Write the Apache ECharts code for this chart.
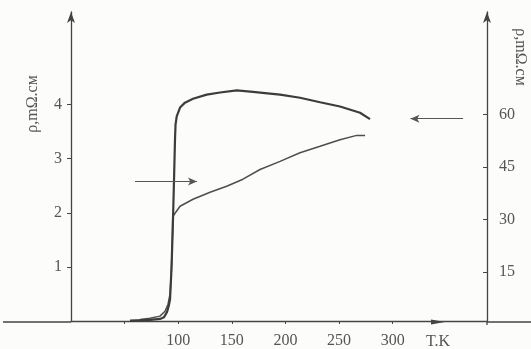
<!DOCTYPE html>
<html>
<head>
<meta charset="utf-8">
<script src="https://cdn.jsdelivr.net/npm/echarts@6/dist/echarts.min.js"></script>
<style>
  html, body { margin: 0; padding: 0; background: #fcfcfa; }
  #chart { width: 531px; height: 349px; }
</style>
</head>
<body>
<div id="chart"></div>
<script>
// temperature, K
const lowerT = [64.4, 73.7, 83, 87.7, 90.5, 92.4, 93.7, 94.5, 94.9, 101.7, 113.8, 129.7, 145.2, 160.4, 176.3, 195, 213.6, 232.3, 250.9, 266.5, 274.3];
// resistivity, mOhm*cm (left scale)
const lowerRho = [0.03, 0.05, 0.09, 0.18, 0.31, 0.5, 0.96, 1.51, 1.93, 2.12, 2.25, 2.38, 2.49, 2.62, 2.8, 2.95, 3.11, 3.23, 3.35, 3.43, 3.43];

const upperT = [55, 73.7, 83, 86.8, 89.6, 91.4, 92.4, 93.7, 94.9, 96.1, 97, 97.5, 98.6, 101.7, 106.3, 113.8, 126.6, 139, 154.6, 169.8, 185.6, 195, 213.6, 232.3, 250.9, 269.6, 278.9];
// resistivity, mOhm*cm (right scale)
const upperRho = [1.1, 1.3, 1.6, 2.1, 3.6, 5.6, 7.3, 15.8, 27.2, 41.5, 52.9, 57.1, 59.5, 62, 63.4, 64.5, 65.7, 66.3, 66.9, 66.5, 66, 65.7, 64.8, 63.5, 62.3, 60.5, 58.7];

const xTicks = [50, 100, 150, 200, 250, 300];
const xLabels = [100, 150, 200, 250, 300];
const leftTicks = [1, 2, 3, 4];
const rightTicks = [15, 30, 45, 60];

const ink = '#454545';
const textInk = '#555';
const serif = 'Liberation Serif';

let chart = echarts.init(document.getElementById('chart'));

chart.setOption({
  animation: false,
  backgroundColor: '#fcfcfa',
  grid: {left: 71, right: 44, top: 12, bottom: 27},
  xAxis: {
    type: 'value',
    min: 0,
    max: 388,
    splitLine: {show: false},
    axisLine: {onZero: false, lineStyle: {color: ink, width: 1.3}},
    axisTick: {customValues: xTicks, length: 3, lineStyle: {color: ink}},
    axisLabel: {customValues: xLabels, margin: 12, color: textInk, fontFamily: serif, fontSize: 16}
  },
  yAxis: [
    {
      type: 'value',
      position: 'left',
      min: 0,
      max: 5.71,
      splitLine: {show: false},
      axisLine: {show: true, onZero: false, symbol: ['none', 'arrow'], symbolSize: [6, 11], lineStyle: {color: ink, width: 1.3}},
      axisTick: {show: true, customValues: leftTicks, length: 4, lineStyle: {color: ink}},
      axisLabel: {customValues: leftTicks, margin: 9, color: textInk, fontFamily: serif, fontSize: 16}
    },
    {
      type: 'value',
      position: 'right',
      min: 1,
      max: 89.3,
      splitLine: {show: false},
      axisLine: {show: true, onZero: false, symbol: ['none', 'arrow'], symbolSize: [6, 11], lineStyle: {color: ink, width: 1.3}},
      axisTick: {show: true, customValues: rightTicks, length: 4, inside: true, lineStyle: {color: ink}},
      axisLabel: {customValues: rightTicks, margin: 12, color: textInk, fontFamily: serif, fontSize: 16}
    }
  ],
  series: [
    {
      type: 'line',
      yAxisIndex: 0,
      showSymbol: false,
      data: lowerT.map((t, i) => [t, lowerRho[i]]),
      lineStyle: {color: '#4e4e4e', width: 1.5},
      markLine: {
        silent: true,
        symbol: ['none', 'arrow'],
        symbolSize: [6, 9],
        label: {show: false},
        lineStyle: {type: 'solid', color: '#555', width: 1},
        data: [[{coord: [59.7, 2.58]}, {coord: [117.5, 2.58]}]]
      }
    },
    {
      type: 'line',
      yAxisIndex: 1,
      showSymbol: false,
      data: upperT.map((t, i) => [t, upperRho[i]]),
      lineStyle: {color: '#3c3c3c', width: 2.2},
      markLine: {
        silent: true,
        symbol: ['none', 'arrow'],
        symbolSize: [6, 9],
        label: {show: false},
        lineStyle: {type: 'solid', color: '#555', width: 1},
        data: [[{coord: [365.7, 58.8]}, {coord: [316.6, 58.8]}]]
      }
    }
  ],
  graphic: [
    // baseline runs past both vertical axes
    {type: 'line', shape: {x1: 3, y1: 322, x2: 71, y2: 322}, style: {stroke: ink, lineWidth: 1.3}},
    {type: 'line', shape: {x1: 487, y1: 322, x2: 531, y2: 322}, style: {stroke: ink, lineWidth: 1.3}},
    {type: 'line', shape: {x1: 487, y1: 322, x2: 487, y2: 325}, style: {stroke: ink, lineWidth: 1.3}},
    {type: 'polygon', shape: {points: [[431, 319.5], [445, 322], [431, 324.5]]}, style: {fill: ink}},
    {type: 'text', x: 426, y: 342, style: {text: 'T.K', font: '16px "Liberation Serif"', fill: textInk, textVerticalAlign: 'middle'}},
    {type: 'text', x: 33, y: 104, rotation: Math.PI / 2,
      style: {text: 'ρ,mΩ.см', font: '16px "Liberation Serif"', fill: textInk, textAlign: 'center', textVerticalAlign: 'middle'}},
    {type: 'text', x: 520, y: 57, rotation: -Math.PI / 2,
      style: {text: 'ρ,mΩ.см', font: '16px "Liberation Serif"', fill: textInk, textAlign: 'center', textVerticalAlign: 'middle'}}
  ]
});
</script>
</body>
</html>
